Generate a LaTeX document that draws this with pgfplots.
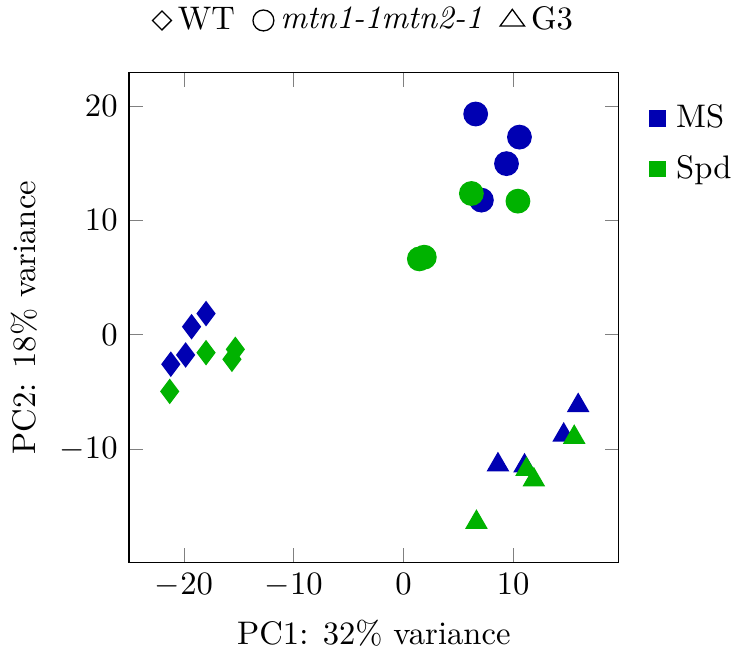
\documentclass[border=0pt]{standalone}
\usepackage{pgfplots}
\pgfplotsset{compat=1.18}
\definecolor{msblue}{RGB}{0,0,178}
\definecolor{spdgreen}{RGB}{0,178,0}
\pgfplotsset{widemark/.style={only marks, legend image code/.code={\draw[##1] plot coordinates {(0pt,0pt)}; \path[draw=none,fill=none] (-2.3pt,0pt) (3.7pt,0pt);}}}
\begin{document}
\begin{tikzpicture}
\begin{axis}[scale only axis, width=150pt, height=150pt,
  xmin=-25, xmax=19.6, ymin=-19.9, ymax=22.9,
  xlabel={PC1: 32\% variance}, ylabel={PC2: 18\% variance},
  legend style={at={(1.063,0.95)}, anchor=north west, draw=none, row sep=3pt, inner xsep=0pt, inner ysep=0pt},
  legend cell align=left, mark size=3.6pt]
% WT MS
\addplot[forget plot, only marks, mark=diamond*, color=msblue] coordinates {
(-21.2,-2.58) (-19.85,-1.77) (-19.31,0.70) (-17.99,1.85)};
% WT Spd
\addplot[forget plot, only marks, mark=diamond*, color=spdgreen] coordinates {
(-21.3,-4.96) (-17.99,-1.57) (-15.63,-2.15) (-15.32,-1.28)};
% mtn MS
\addplot[forget plot, only marks, mark=*, color=msblue] coordinates {
(6.58,19.30) (10.57,17.28) (9.39,14.96) (7.10,11.77)};
% mtn Spd
\addplot[forget plot, only marks, mark=*, color=spdgreen] coordinates {
(6.19,12.35) (10.43,11.68) (1.45,6.63) (1.90,6.78)};
% G3 MS
\addplot[forget plot, only marks, mark=triangle*, color=msblue] coordinates {
(15.92,-6.19) (14.6,-8.77) (8.61,-11.37) (11.03,-11.47)};
% G3 Spd
\addplot[forget plot, only marks, mark=triangle*, color=spdgreen] coordinates {
(15.56,-8.97) (11.21,-11.78) (11.88,-12.69) (6.65,-16.4)};
\addlegendimage{widemark, mark=square*, mark size=2.3pt, color=msblue}
\addlegendentry{MS}
\addlegendimage{widemark, mark=square*, mark size=2.3pt, color=spdgreen}
\addlegendentry{Spd}
\end{axis}
\begin{axis}[scale only axis, width=150pt, height=150pt, hide axis,
  xmin=0, xmax=1, ymin=0, ymax=1,
  legend columns=3,
  legend style={at={(0.484,1.107)}, anchor=center, draw=none, inner xsep=0pt, inner ysep=0pt,
    /tikz/every even column/.append style={column sep=3.5pt}}]
\addlegendimage{only marks, mark=square, mark size=2.05pt, mark options={rotate=45}, black}
\addlegendentry{WT}
\addlegendimage{only marks, mark=o, mark size=3.2pt, black}
\addlegendentry{\textit{mtn1-1mtn2-1}}
\addlegendimage{only marks, mark=triangle, mark size=3.4pt, mark options={xscale=1.27}, black}
\addlegendentry{G3}
\end{axis}
\end{tikzpicture}
\end{document}
